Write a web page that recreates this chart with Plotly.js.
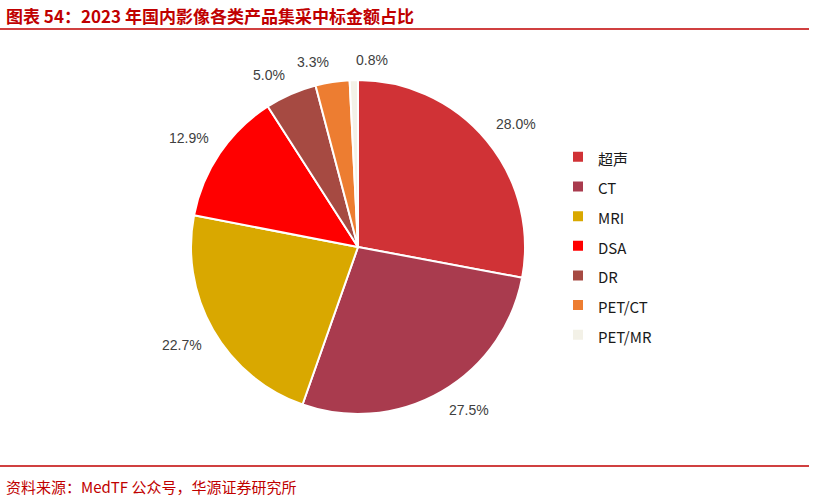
<!DOCTYPE html>
<html><head><meta charset="utf-8">
<script src="https://cdn.plot.ly/plotly-3.0.1.min.js"></script>
<style>body{margin:0;padding:0;background:#fff}</style>
</head><body>
<div id="chart" style="width:815px;height:500px"></div>
<script>
const categories = ["超声", "CT", "MRI", "DSA", "DR", "PET/CT", "PET/MR"];
const shares = [28.0, 27.5, 22.7, 12.9, 5.0, 3.3, 0.8];
const colors = ["#D03236", "#A93B4E", "#D9A800", "#FF0000", "#A64A42", "#ED7D31", "#F3F1E7"];

const cx = 358, cy = 247, r = 167, W = 815, H = 500;
const trace = {
  type: "pie",
  labels: categories.map(c => '<span style="font-size:15px">' + c + '</span>'),
  values: shares,
  sort: false,
  direction: "clockwise",
  rotation: 0,
  marker: {colors: colors, line: {color: "#ffffff", width: 2}},
  textinfo: "none",
  hoverinfo: "label+percent",
  domain: {x: [(cx - r) / W, (cx + r) / W], y: [1 - (cy + r) / H, 1 - (cy - r) / H]},
  automargin: false
};

// percentage labels placed just outside each slice, at its mid-angle
const total = shares.reduce((a, b) => a + b, 0);
const labelAnns = [];
let cum = 0;
shares.forEach(v => {
  const mid = (cum + v / 2) / total * 2 * Math.PI;
  cum += v;
  const s = Math.sin(mid), c = Math.cos(mid);
  const rr = r + 10;
  const px = cx + rr * s, py = cy - rr * c;
  labelAnns.push({
    text: v.toFixed(1) + "%", xref: "paper", yref: "paper",
    x: px / W, y: 1 - py / H,
    xanchor: Math.abs(s) < 0.1 ? "left" : (s > 0 ? "left" : "right"),
    yanchor: c > 0 ? "bottom" : "top",
    showarrow: false,
    font: {family: "Liberation Sans, Arial, sans-serif", size: 14, color: "#404040"}
  });
});

const layout = {
  width: W, height: H,
  margin: {l: 0, r: 0, t: 0, b: 0},
  paper_bgcolor: "#fff",
  showlegend: true,
  legend: {
    x: 558 / W, y: 1 - 137 / H, xanchor: "left", yanchor: "top",
    font: {family: "Noto Sans CJK SC, Liberation Sans, sans-serif", size: 20.5, color: "#1a1a1a"},
    itemwidth: 30
  },
  annotations: labelAnns.concat([
    {text: "图表 54：2023 年国内影像各类产品集采中标金额占比", xref: "paper", yref: "paper",
     x: 4 / W, y: 1 - 15 / H, xanchor: "left", yanchor: "middle", showarrow: false,
     font: {family: "Noto Sans CJK SC, sans-serif", size: 17, color: "#C00000", weight: 700}},
    {text: "资料来源：MedTF 公众号，华源证券研究所", xref: "paper", yref: "paper",
     x: 4 / W, y: 1 - 486 / H, xanchor: "left", yanchor: "middle", showarrow: false,
     font: {family: "Noto Sans CJK SC, sans-serif", size: 15, color: "#C00000"}}
  ]),
  shapes: [
    {type: "line", xref: "paper", yref: "paper", x0: 0, x1: 809 / W, y0: 1 - 29 / H, y1: 1 - 29 / H,
     line: {color: "#C00000", width: 1.5}},
    {type: "line", xref: "paper", yref: "paper", x0: 0, x1: 809 / W, y0: 1 - 466 / H, y1: 1 - 466 / H,
     line: {color: "#C00000", width: 1.5}}
  ]
};
Plotly.newPlot("chart", [trace], layout, {displayModeBar: false, staticPlot: true});
</script>
</body></html>
